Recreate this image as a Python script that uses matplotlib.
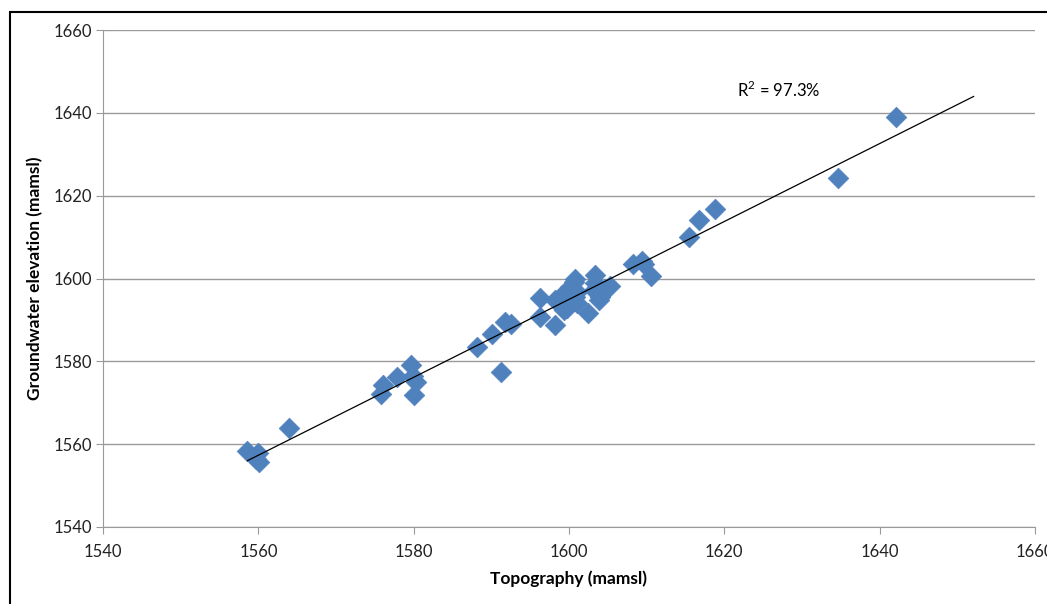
import numpy as np
import matplotlib.pyplot as plt
from matplotlib.patches import Rectangle

# topography vs groundwater elevation (mamsl)
topo = [1558.6, 1560.0, 1560.1, 1559.7, 1563.9,
        1575.8, 1576.0, 1577.9, 1579.6, 1579.9, 1580.3, 1580.0,
        1588.2, 1590.1, 1591.3, 1591.8, 1592.5,
        1596.3, 1596.3, 1598.2, 1598.2, 1599.1, 1599.3, 1599.7,
        1600.1, 1600.6, 1600.8, 1601.0, 1601.0, 1600.8, 1602.5,
        1603.4, 1603.4, 1603.2, 1603.8, 1604.0, 1604.6, 1605.3,
        1608.3, 1609.4, 1609.6, 1610.5,
        1615.4, 1616.8, 1618.8, 1634.6, 1642.1]
gw = [1558.3, 1557.9, 1555.7, 1556.5, 1563.8,
      1572.0, 1574.2, 1576.3, 1579.2, 1576.4, 1575.0, 1571.8,
      1583.4, 1586.6, 1577.4, 1589.5, 1589.0,
      1595.4, 1590.6, 1588.7, 1594.8, 1596.0, 1592.4, 1592.8,
      1598.0, 1599.2, 1600.0, 1596.8, 1594.0, 1595.6, 1591.7,
      1600.8, 1598.8, 1597.2, 1594.8, 1595.6, 1597.4, 1598.2,
      1603.6, 1604.2, 1603.6, 1600.6,
      1610.1, 1614.1, 1616.8, 1624.2, 1638.9]
ticks = [1540, 1560, 1580, 1600, 1620, 1640, 1660]
r2_label = "R$^2$ = 97.3%"

plt.rcParams['font.family'] = ['Lato', 'DejaVu Sans']
plt.rcParams['mathtext.fontset'] = 'custom'
plt.rcParams['mathtext.rm'] = 'Lato'

fig = plt.figure(figsize=(10.47, 6.04), dpi=100)
ax = fig.add_axes([0.0984, 0.1275, 0.8901, 0.8228])

grey = '#9a9a9a'
ax.set_xlim(1540, 1660)
ax.set_ylim(1540, 1660)
ax.set_xticks(ticks)
ax.set_yticks(ticks)
ax.yaxis.grid(True, color=grey, linewidth=1)
ax.set_axisbelow(True)
for s in ['top', 'right']:
    ax.spines[s].set_visible(False)
for s in ['left', 'bottom']:
    ax.spines[s].set_color(grey)
ax.tick_params(axis='both', color=grey, length=5, labelsize=12, labelcolor='#222222')
ax.tick_params(axis='y', pad=3)
ax.tick_params(axis='x', pad=7)

ax.scatter(topo, gw, marker='D', s=110, color='#4F81BD', edgecolors='#4F81BD',
           linewidths=0.5, zorder=3)

# linear trendline, forecast forward by 10
a, b = np.polyfit(topo, gw, 1)
xl = np.array([min(topo), max(topo) + 10])
ax.plot(xl, a * xl + b, color='black', linewidth=0.9, zorder=4)

ax.text(1621.6, 1645.5, r2_label, fontsize=12, va='center', ha='left')

ax.set_xlabel('Topography (mamsl)', fontsize=12.5, fontweight='bold', labelpad=8)
ax.set_ylabel('Groundwater elevation (mamsl)', fontsize=12.5, fontweight='bold', labelpad=7)

# outer chart frame
fig.patches.append(Rectangle((10 / 1047, -0.05), 1.1, 1 - 12 / 604 + 0.05,
                             transform=fig.transFigure, fill=False,
                             edgecolor='black', linewidth=1.5))

plt.savefig('out.png', dpi=100)
